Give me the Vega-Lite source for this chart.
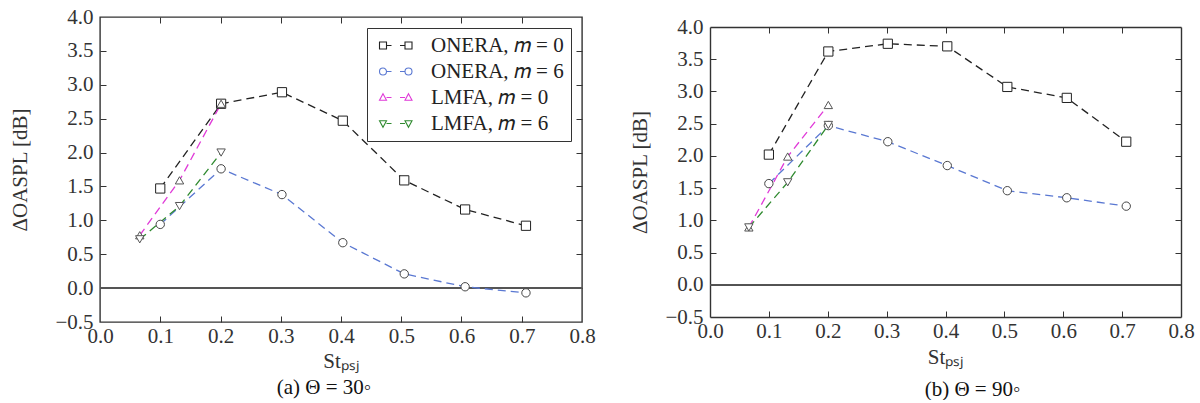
{
  "$schema": "https://vega.github.io/schema/vega-lite/v6.json",
  "padding": {"left": 9, "top": 5, "right": 0, "bottom": 0},
  "background": "white",
  "config": {
    "font": "Liberation Serif",
    "view": {"stroke": "#333", "strokeWidth": 1.4},
    "axis": {"grid": false, "domain": false, "tickColor": "#333", "tickWidth": 1, "domainColor": "#333", "domainWidth": 1.4,
      "labelFont": "Liberation Serif", "labelFontSize": 21, "labelColor": "#333", "labelFlush": false, "labelOverlap": false,
      "titleFont": "Liberation Serif", "titleFontSize": 21, "titleFontWeight": "normal", "titleColor": "#333"},
    "title": {"font": "Liberation Serif", "fontSize": 21, "fontWeight": "normal", "color": "#111"},
    "legend": {"labelFont": "Liberation Serif"}
  },
  "datasets": {
    "d": [
      {"panel": "a", "series": "ONERA, 𝑚 = 0", "x": 0.1, "y": 1.47},
      {"panel": "a", "series": "ONERA, 𝑚 = 0", "x": 0.201, "y": 2.72},
      {"panel": "a", "series": "ONERA, 𝑚 = 0", "x": 0.302, "y": 2.89},
      {"panel": "a", "series": "ONERA, 𝑚 = 0", "x": 0.403, "y": 2.47},
      {"panel": "a", "series": "ONERA, 𝑚 = 0", "x": 0.505, "y": 1.59},
      {"panel": "a", "series": "ONERA, 𝑚 = 0", "x": 0.606, "y": 1.16},
      {"panel": "a", "series": "ONERA, 𝑚 = 0", "x": 0.707, "y": 0.92},
      {"panel": "a", "series": "ONERA, 𝑚 = 6", "x": 0.1, "y": 0.94},
      {"panel": "a", "series": "ONERA, 𝑚 = 6", "x": 0.201, "y": 1.76},
      {"panel": "a", "series": "ONERA, 𝑚 = 6", "x": 0.302, "y": 1.38},
      {"panel": "a", "series": "ONERA, 𝑚 = 6", "x": 0.403, "y": 0.67},
      {"panel": "a", "series": "ONERA, 𝑚 = 6", "x": 0.505, "y": 0.21},
      {"panel": "a", "series": "ONERA, 𝑚 = 6", "x": 0.606, "y": 0.02},
      {"panel": "a", "series": "ONERA, 𝑚 = 6", "x": 0.707, "y": -0.07},
      {"panel": "a", "series": "LMFA, 𝑚 = 0", "x": 0.066, "y": 0.78},
      {"panel": "a", "series": "LMFA, 𝑚 = 0", "x": 0.132, "y": 1.59},
      {"panel": "a", "series": "LMFA, 𝑚 = 0", "x": 0.201, "y": 2.72},
      {"panel": "a", "series": "LMFA, 𝑚 = 6", "x": 0.066, "y": 0.72},
      {"panel": "a", "series": "LMFA, 𝑚 = 6", "x": 0.132, "y": 1.21},
      {"panel": "a", "series": "LMFA, 𝑚 = 6", "x": 0.201, "y": 2.0},
      {"panel": "b", "series": "ONERA, 𝑚 = 0", "x": 0.1, "y": 2.02},
      {"panel": "b", "series": "ONERA, 𝑚 = 0", "x": 0.201, "y": 3.62},
      {"panel": "b", "series": "ONERA, 𝑚 = 0", "x": 0.302, "y": 3.74},
      {"panel": "b", "series": "ONERA, 𝑚 = 0", "x": 0.403, "y": 3.7},
      {"panel": "b", "series": "ONERA, 𝑚 = 0", "x": 0.505, "y": 3.07},
      {"panel": "b", "series": "ONERA, 𝑚 = 0", "x": 0.606, "y": 2.9},
      {"panel": "b", "series": "ONERA, 𝑚 = 0", "x": 0.707, "y": 2.22},
      {"panel": "b", "series": "ONERA, 𝑚 = 6", "x": 0.1, "y": 1.57},
      {"panel": "b", "series": "ONERA, 𝑚 = 6", "x": 0.201, "y": 2.47},
      {"panel": "b", "series": "ONERA, 𝑚 = 6", "x": 0.302, "y": 2.22},
      {"panel": "b", "series": "ONERA, 𝑚 = 6", "x": 0.403, "y": 1.85},
      {"panel": "b", "series": "ONERA, 𝑚 = 6", "x": 0.505, "y": 1.46},
      {"panel": "b", "series": "ONERA, 𝑚 = 6", "x": 0.606, "y": 1.35},
      {"panel": "b", "series": "ONERA, 𝑚 = 6", "x": 0.707, "y": 1.22},
      {"panel": "b", "series": "LMFA, 𝑚 = 0", "x": 0.066, "y": 0.89},
      {"panel": "b", "series": "LMFA, 𝑚 = 0", "x": 0.132, "y": 1.99},
      {"panel": "b", "series": "LMFA, 𝑚 = 0", "x": 0.201, "y": 2.79},
      {"panel": "b", "series": "LMFA, 𝑚 = 6", "x": 0.066, "y": 0.89},
      {"panel": "b", "series": "LMFA, 𝑚 = 6", "x": 0.132, "y": 1.59},
      {"panel": "b", "series": "LMFA, 𝑚 = 6", "x": 0.201, "y": 2.48}
    ]
  },
  "spacing": 33,
  "resolve": {"scale": {"color": "independent"}, "legend": {"color": "independent"}},
  "hconcat": [
    {
      "width": 482,
      "height": 305,
      "title": {"text": "(a) Θ = 30◦", "orient": "bottom", "frame": "group", "anchor": "middle", "dx": -17, "offset": 6},
      "data": {"name": "d"},
      "transform": [{"filter": "datum.panel === 'a'"}],
      "layer": [
        {
          "mark": {"type": "point", "opacity": 0},
          "encoding": {
            "x": {"field": "x", "type": "quantitative", "scale": {"domain": [0, 0.8], "nice": false}, "axis": {"orient": "top", "labels": false, "title": null, "tickSize": -6, "domain": false, "values": [0.1, 0.2, 0.3, 0.4, 0.5, 0.6, 0.7]}},
            "y": {"field": "y", "type": "quantitative", "scale": {"domain": [-0.5, 4], "nice": false}, "axis": {"orient": "right", "labels": false, "title": null, "tickSize": -6, "domain": false, "values": [0, 0.5, 1, 1.5, 2, 2.5, 3, 3.5]}}
          }
        },
        {
          "mark": {"type": "point", "opacity": 0},
          "encoding": {
            "x": {"field": "x", "type": "quantitative", "axis": {"orient": "bottom", "labels": false, "title": null, "tickSize": -6, "domain": false, "values": [0.1, 0.2, 0.3, 0.4, 0.5, 0.6, 0.7]}},
            "y": {"field": "y", "type": "quantitative", "axis": {"orient": "left", "labels": false, "title": null, "tickSize": -6, "domain": false, "values": [0, 0.5, 1, 1.5, 2, 2.5, 3, 3.5]}}
          }
        },
        {
          "mark": {"type": "rule", "color": "#555", "strokeWidth": 1},
          "encoding": {"y": {"datum": 0, "type": "quantitative", "axis": null}}
        },
        {
          "mark": {"type": "line", "strokeDash": [8, 5], "strokeWidth": 1.3},
          "encoding": {
            "x": {"field": "x", "type": "quantitative", "axis": {"orient": "bottom", "ticks": false, "domain": false, "labelPadding": 3, "title": "Stₚₛⱼ", "titlePadding": 4, "format": ".1f", "values": [0, 0.1, 0.2, 0.3, 0.4, 0.5, 0.6, 0.7, 0.8]}},
            "y": {"field": "y", "type": "quantitative", "axis": {"orient": "left", "ticks": false, "domain": false, "labelPadding": 7, "title": "ΔOASPL [dB]", "titlePadding": 24, "format": ".1f", "values": [-0.5, 0, 0.5, 1, 1.5, 2, 2.5, 3, 3.5, 4]}},
            "color": {
              "field": "series", "type": "nominal",
              "scale": {"domain": ["ONERA, 𝑚 = 0", "ONERA, 𝑚 = 6", "LMFA, 𝑚 = 0", "LMFA, 𝑚 = 6"], "range": ["#222222", "#5a78d2", "#e03ad8", "#2f8a2f"]},
              "legend": {
                "orient": "top-right", "offset": 11, "title": null, "fillColor": "white", "strokeColor": "#333",
                "padding": 7, "rowPadding": 4, "labelFont": "Liberation Serif", "labelFontSize": 21, "labelColor": "#222",
                "symbolSize": 100, "labelOffset": 36, "symbolStrokeWidth": 1.1,
                "encode": {"symbols": {"update": {
                  "shape": {"signal": "datum.index === 0 ? 'M-1,-0.7H0.4V0.7H-1Z M0.4,0H1.4 M3.1,0H4.1 M4.1,-0.7H5.5V0.7H4.1Z' : datum.index === 1 ? 'M0.4,0A0.7,0.7,0,1,1,-1,0A0.7,0.7,0,1,1,0.4,0Z M0.4,0H1.4 M3.1,0H4.1 M5.5,0A0.7,0.7,0,1,1,4.1,0A0.7,0.7,0,1,1,5.5,0Z' : datum.index === 2 ? 'M-0.3,-0.75L0.4,0.55L-1,0.55Z M0.4,0H1.4 M3.1,0H4.1 M4.8,-0.75L5.5,0.55L4.1,0.55Z' : 'M-0.3,0.75L0.4,-0.55L-1,-0.55Z M0.4,0H1.4 M3.1,0H4.1 M4.8,0.75L5.5,-0.55L4.1,-0.55Z'"},
                  "strokeDash": {"value": []},
                  "fill": {"value": "white"}
                }}}
              }
            },
            "order": {"field": "x", "type": "quantitative"}
          }
        },
        {
          "transform": [{"filter": "datum.series === 'ONERA, 𝑚 = 0'"}],
          "mark": {"type": "point", "shape": "square", "fill": "white", "fillOpacity": 1, "stroke": "#222", "strokeWidth": 1, "opacity": 1, "size": 85},
          "encoding": {"x": {"field": "x", "type": "quantitative", "axis": null}, "y": {"field": "y", "type": "quantitative", "axis": null}}
        },
        {
          "transform": [{"filter": "datum.series === 'ONERA, 𝑚 = 6'"}],
          "mark": {"type": "point", "shape": "circle", "fill": "white", "fillOpacity": 1, "stroke": "#444", "strokeWidth": 1, "opacity": 1, "size": 70},
          "encoding": {"x": {"field": "x", "type": "quantitative", "axis": null}, "y": {"field": "y", "type": "quantitative", "axis": null}}
        },
        {
          "transform": [{"filter": "datum.series === 'LMFA, 𝑚 = 0'"}],
          "mark": {"type": "point", "shape": "triangle-up", "fill": "white", "fillOpacity": 1, "stroke": "#555", "strokeWidth": 1, "opacity": 1, "size": 70},
          "encoding": {"x": {"field": "x", "type": "quantitative", "axis": null}, "y": {"field": "y", "type": "quantitative", "axis": null}}
        },
        {
          "transform": [{"filter": "datum.series === 'LMFA, 𝑚 = 6'"}],
          "mark": {"type": "point", "shape": "triangle-down", "fill": "white", "fillOpacity": 1, "stroke": "#555", "strokeWidth": 1, "opacity": 1, "size": 70},
          "encoding": {"x": {"field": "x", "type": "quantitative", "axis": null}, "y": {"field": "y", "type": "quantitative", "axis": null}}
        }
      ],
      "resolve": {"axis": {"x": "independent", "y": "independent"}}
    },
    {
      "width": 471,
      "height": 300,
      "view": {"stroke": null},
      "title": {"text": "(b) Θ  = 90◦", "orient": "bottom", "frame": "group", "anchor": "middle", "dx": 27, "offset": 12},
      "data": {"name": "d"},
      "transform": [{"filter": "datum.panel === 'b'"}],
      "layer": [
        {
          "mark": {"type": "point", "opacity": 0},
          "encoding": {
            "x": {"field": "x", "type": "quantitative", "scale": {"domain": [0, 0.8], "nice": false}, "axis": {"orient": "top", "offset": -10, "labels": false, "title": null, "tickSize": -6, "domain": true, "values": [0.1, 0.2, 0.3, 0.4, 0.5, 0.6, 0.7]}},
            "y": {"field": "y", "type": "quantitative", "scale": {"domain": [-0.5, 4], "nice": false, "range": [300, 10]}, "axis": {"orient": "right", "labels": false, "title": null, "tickSize": -6, "domain": true, "values": [0, 0.5, 1, 1.5, 2, 2.5, 3, 3.5]}}
          }
        },
        {
          "mark": {"type": "point", "opacity": 0},
          "encoding": {
            "x": {"field": "x", "type": "quantitative", "axis": {"orient": "bottom", "labels": false, "title": null, "tickSize": -6, "domain": true, "values": [0.1, 0.2, 0.3, 0.4, 0.5, 0.6, 0.7]}},
            "y": {"field": "y", "type": "quantitative", "axis": {"orient": "left", "labels": false, "title": null, "tickSize": -6, "domain": true, "values": [0, 0.5, 1, 1.5, 2, 2.5, 3, 3.5]}}
          }
        },
        {
          "mark": {"type": "rule", "color": "#555", "strokeWidth": 1},
          "encoding": {"y": {"datum": 0, "type": "quantitative", "axis": null}}
        },
        {
          "mark": {"type": "line", "strokeDash": [8, 5], "strokeWidth": 1.3},
          "encoding": {
            "x": {"field": "x", "type": "quantitative", "axis": {"orient": "bottom", "ticks": false, "domain": false, "labelPadding": 3, "title": "Stₚₛⱼ", "titlePadding": 5, "format": ".1f", "values": [0, 0.1, 0.2, 0.3, 0.4, 0.5, 0.6, 0.7, 0.8]}},
            "y": {"field": "y", "type": "quantitative", "axis": {"orient": "left", "ticks": false, "domain": false, "labelPadding": 7, "title": "ΔOASPL [dB]", "titlePadding": 14, "format": ".1f", "values": [-0.5, 0, 0.5, 1, 1.5, 2, 2.5, 3, 3.5, 4]}},
            "color": {
              "field": "series", "type": "nominal",
              "scale": {"domain": ["ONERA, 𝑚 = 0", "ONERA, 𝑚 = 6", "LMFA, 𝑚 = 0", "LMFA, 𝑚 = 6"], "range": ["#222222", "#5a78d2", "#e03ad8", "#2f8a2f"]},
              "legend": null
            },
            "order": {"field": "x", "type": "quantitative"}
          }
        },
        {
          "transform": [{"filter": "datum.series === 'ONERA, 𝑚 = 0'"}],
          "mark": {"type": "point", "shape": "square", "fill": "white", "fillOpacity": 1, "stroke": "#222", "strokeWidth": 1, "opacity": 1, "size": 85},
          "encoding": {"x": {"field": "x", "type": "quantitative", "axis": null}, "y": {"field": "y", "type": "quantitative", "axis": null}}
        },
        {
          "transform": [{"filter": "datum.series === 'ONERA, 𝑚 = 6'"}],
          "mark": {"type": "point", "shape": "circle", "fill": "white", "fillOpacity": 1, "stroke": "#444", "strokeWidth": 1, "opacity": 1, "size": 70},
          "encoding": {"x": {"field": "x", "type": "quantitative", "axis": null}, "y": {"field": "y", "type": "quantitative", "axis": null}}
        },
        {
          "transform": [{"filter": "datum.series === 'LMFA, 𝑚 = 0'"}],
          "mark": {"type": "point", "shape": "triangle-up", "fill": "white", "fillOpacity": 1, "stroke": "#555", "strokeWidth": 1, "opacity": 1, "size": 70},
          "encoding": {"x": {"field": "x", "type": "quantitative", "axis": null}, "y": {"field": "y", "type": "quantitative", "axis": null}}
        },
        {
          "transform": [{"filter": "datum.series === 'LMFA, 𝑚 = 6'"}],
          "mark": {"type": "point", "shape": "triangle-down", "fill": "white", "fillOpacity": 1, "stroke": "#555", "strokeWidth": 1, "opacity": 1, "size": 70},
          "encoding": {"x": {"field": "x", "type": "quantitative", "axis": null}, "y": {"field": "y", "type": "quantitative", "axis": null}}
        }
      ],
      "resolve": {"axis": {"x": "independent", "y": "independent"}}
    }
  ]
}
